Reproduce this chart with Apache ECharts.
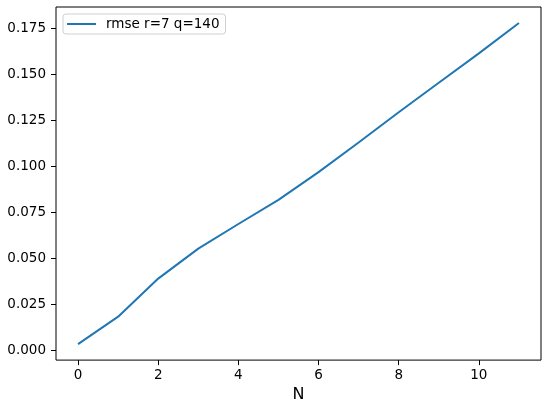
<!DOCTYPE html>
<html>
<head>
<meta charset="utf-8">
<script src="https://cdn.jsdelivr.net/npm/echarts@6/dist/echarts.min.js"></script>
<style>
  html, body { margin: 0; padding: 0; background: #fff; }
  #chart { width: 550px; height: 408px; }
</style>
</head>
<body>
<div id="chart"></div>
<script>
// values
var nValues = [0, 1, 2, 3, 4, 5, 6, 7, 8, 9, 10, 11];
var rmseValues = [0.0034, 0.0183, 0.0390, 0.0553, 0.0687, 0.0818, 0.0969, 0.1130, 0.1295, 0.1455, 0.1615, 0.1780];
var xTicks = [0, 2, 4, 6, 8, 10];
var yTicks = [0.000, 0.025, 0.050, 0.075, 0.100, 0.125, 0.150, 0.175];
var seriesName = 'rmse r=7 q=140';

var chart = echarts.init(document.getElementById('chart'));

// matplotlib style 5% margins
function pad(arr) {
    var lo = Math.min.apply(null, arr), hi = Math.max.apply(null, arr);
    var m = (hi - lo) * 0.05;
    return [lo - m, hi + m];
}
var xr = pad(nValues);
var yr = pad(rmseValues);

var font = 'DejaVu Sans';

var option = {
    animation: false,
    textStyle: { fontFamily: font },
    grid: {
        left: 56, top: 7, right: 9, bottom: 47,
        show: true,
        borderColor: '#000',
        borderWidth: 1,
        backgroundColor: '#fff'
    },
    legend: {
        left: 63, top: 14,
        padding: [3, 6, 3, 4],
        borderColor: '#d0d0d0',
        borderWidth: 1,
        borderRadius: 3,
        backgroundColor: '#fff',
        itemWidth: 29,
        itemHeight: 2,
        icon: 'rect',
        textStyle: { fontFamily: font, fontSize: 13.5, color: '#000', padding: [0, 0, 0, 5] },
        data: [seriesName]
    },
    xAxis: {
        type: 'value',
        min: xr[0], max: xr[1],
        name: 'N',
        nameLocation: 'middle',
        nameGap: 26,
        nameTextStyle: { fontFamily: font, fontSize: 16, color: '#000' },
        axisLine: { show: false, onZero: false },
        splitLine: { show: false },
        axisTick: { show: true, inside: false, length: 5, lineStyle: { color: '#000' }, customValues: xTicks },
        axisLabel: { fontFamily: font, fontSize: 13.5, color: '#000', margin: 8, customValues: xTicks,
            formatter: function (v) { return String(v); } }
    },
    yAxis: {
        type: 'value',
        min: yr[0], max: yr[1],
        axisLine: { show: false, onZero: false },
        splitLine: { show: false },
        axisTick: { show: true, inside: false, length: 5, lineStyle: { color: '#000' }, customValues: yTicks },
        axisLabel: { fontFamily: font, fontSize: 13.5, color: '#000', margin: 10, customValues: yTicks,
            formatter: function (v) { return v.toFixed(3); } }
    },
    series: [{
        name: seriesName,
        type: 'line',
        showSymbol: false,
        symbol: 'none',
        itemStyle: { color: '#1f77b4' },
        lineStyle: { color: '#1f77b4', width: 2 },
        data: nValues.map(function (n, i) { return [n, rmseValues[i]]; })
    }]
};
chart.setOption(option);
</script>
</body>
</html>
